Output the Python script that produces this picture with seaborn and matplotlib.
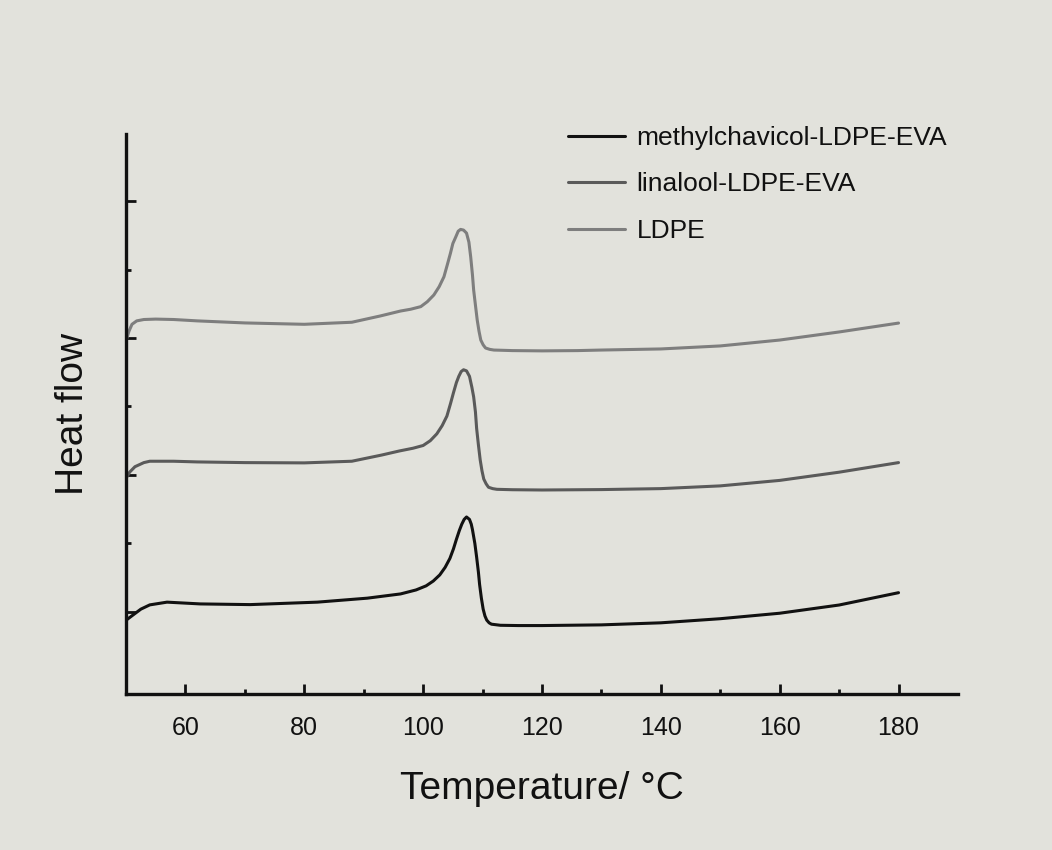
import matplotlib
matplotlib.use("Agg")
import matplotlib.pyplot as plt
import pandas as pd
import seaborn as sns

# DSC heating curves (heat flow in arbitrary, vertically offset units)
ldpe_temp = [50.0, 50.5, 51.0, 51.8, 53.0, 55.0, 58.0, 62.0, 70.0, 80.0, 88.0, 92.8,
             96.2, 97.9, 99.6, 100.7, 101.8, 102.7, 103.5, 104.1, 104.6, 105.0,
             105.5, 105.9, 106.3, 106.8, 107.3, 107.7, 108.0, 108.3, 108.5, 108.8,
             109.1, 109.4, 109.7, 110.1, 110.5, 111.2, 111.9, 115.0, 120.0, 126.0,
             130.0, 140.0, 150.0, 160.0, 170.0, 180.0]
ldpe_flow = [2.98, 3.05, 3.10, 3.125, 3.135, 3.138, 3.135, 3.125, 3.11, 3.10, 3.115, 3.161,
             3.197, 3.21, 3.229, 3.265, 3.314, 3.375, 3.447, 3.54, 3.62, 3.69,
             3.739, 3.78, 3.793, 3.788, 3.766, 3.70, 3.593, 3.46, 3.35, 3.24,
             3.131, 3.05, 2.985, 2.95, 2.927, 2.917, 2.912, 2.908, 2.906, 2.908,
             2.912, 2.92, 2.942, 2.985, 3.044, 3.109]

linalool_temp = [50.0, 50.6, 51.5, 53.0, 54.0, 58.0, 62.0, 70.0, 80.0, 88.0, 93.0,
                 96.0, 98.3, 100.0, 101.2, 102.3, 103.2, 104.0, 104.6, 105.1, 105.6,
                 106.0, 106.4, 106.8, 107.3, 107.8, 108.2, 108.5, 108.8, 109.0, 109.3,
                 109.6, 109.9, 110.2, 110.6, 111.0, 111.7, 112.4, 115.0, 120.0, 130.0,
                 140.0, 150.0, 160.0, 170.0, 180.0]
linalool_flow = [1.975, 2.02, 2.06, 2.09, 2.10, 2.10, 2.095, 2.09, 2.088, 2.10, 2.145,
                 2.175, 2.195, 2.215, 2.25, 2.30, 2.36, 2.43, 2.52, 2.60, 2.675,
                 2.72, 2.755, 2.768, 2.76, 2.72, 2.64, 2.57, 2.46, 2.34, 2.22,
                 2.11, 2.03, 1.97, 1.935, 1.91, 1.90, 1.895, 1.892, 1.89, 1.893,
                 1.90, 1.92, 1.96, 2.02, 2.09]

methyl_temp = [50.1, 51.2, 52.5, 54.0, 56.9, 62.5, 70.9, 82.2, 90.6, 96.2, 98.8,
               100.5, 101.7, 102.8, 103.7, 104.5, 105.1, 105.6, 106.1, 106.5, 106.9,
               107.3, 107.8, 108.1, 108.3, 108.7, 109.0, 109.3, 109.5, 109.8, 110.1,
               110.4, 110.7, 111.1, 111.5, 113.0, 116.0, 120.0, 130.0, 140.0, 150.0,
               160.0, 170.0, 180.0]
methyl_flow = [0.942, 0.978, 1.02, 1.051, 1.071, 1.058, 1.053, 1.071, 1.10, 1.131, 1.16,
               1.19, 1.225, 1.27, 1.325, 1.39, 1.46, 1.53, 1.595, 1.64, 1.675,
               1.693, 1.675, 1.64, 1.60, 1.50, 1.40, 1.29, 1.20, 1.10, 1.02,
               0.97, 0.94, 0.92, 0.91, 0.902, 0.90, 0.90, 0.905, 0.92, 0.95,
               0.99, 1.05, 1.14]

series_names = ["methylchavicol-LDPE-EVA", "linalool-LDPE-EVA", "LDPE"]
series_colors = ["#111111", "#5a5a5a", "#7e7e7e"]

frames = [
    pd.DataFrame({"Temperature": methyl_temp, "Heat flow": methyl_flow, "Sample": series_names[0]}),
    pd.DataFrame({"Temperature": linalool_temp, "Heat flow": linalool_flow, "Sample": series_names[1]}),
    pd.DataFrame({"Temperature": ldpe_temp, "Heat flow": ldpe_flow, "Sample": series_names[2]}),
]
data = pd.concat(frames, ignore_index=True)

bg = "#e2e2dc"
sns.set_style("ticks")
plt.rcParams["font.family"] = ["Liberation Sans", "DejaVu Sans"]
plt.rcParams["axes.facecolor"] = bg
plt.rcParams["figure.facecolor"] = bg

fig = plt.figure(figsize=(10.52, 8.5), dpi=100)
ax = fig.add_axes([0.1198, 0.1835, 0.7908, 0.6589])

sns.lineplot(data=data, x="Temperature", y="Heat flow", hue="Sample",
             hue_order=series_names, palette=dict(zip(series_names, series_colors)),
             sort=False, estimator=None, linewidth=2.2, ax=ax)
for line in ax.get_lines():
    line.set_solid_joinstyle("round")

ax.set_xlim(50, 190)
ax.set_ylim(0.40, 4.49)

ax.set_xticks([60, 80, 100, 120, 140, 160, 180])
ax.set_xticks([70, 90, 110, 130, 150, 170], minor=True)
ax.set_yticks([1, 2, 3, 4])
ax.set_yticks([1.5, 2.5, 3.5], minor=True)
ax.set_yticklabels([])

ax.tick_params(axis="both", which="major", direction="in", length=7.5, width=2.0,
               color="#111111")
ax.tick_params(axis="both", which="minor", direction="in", length=3.5, width=2.0,
               color="#111111")
ax.tick_params(axis="x", which="major", labelsize=18, pad=16, labelcolor="#111111")

for side in ("top", "right"):
    ax.spines[side].set_visible(False)
for side in ("left", "bottom"):
    ax.spines[side].set_linewidth(2.4)
    ax.spines[side].set_color("#111111")

ax.set_xlabel("Temperature/ \u00b0C", fontsize=28, color="#111111", labelpad=22)
ax.set_ylabel("Heat flow", fontsize=28, color="#111111", labelpad=22)

leg = ax.legend(loc="upper left", bbox_to_anchor=(568 / 1052, 1 - 126 / 850),
                bbox_transform=fig.transFigure, frameon=False, fontsize=19,
                handlelength=2.15, handletextpad=0.45, labelspacing=0.85,
                borderpad=0, borderaxespad=0)
for line in leg.get_lines():
    line.set_linewidth(2.2)
for text in leg.get_texts():
    text.set_color("#111111")

fig.savefig("out.png", dpi=100, facecolor=bg)
